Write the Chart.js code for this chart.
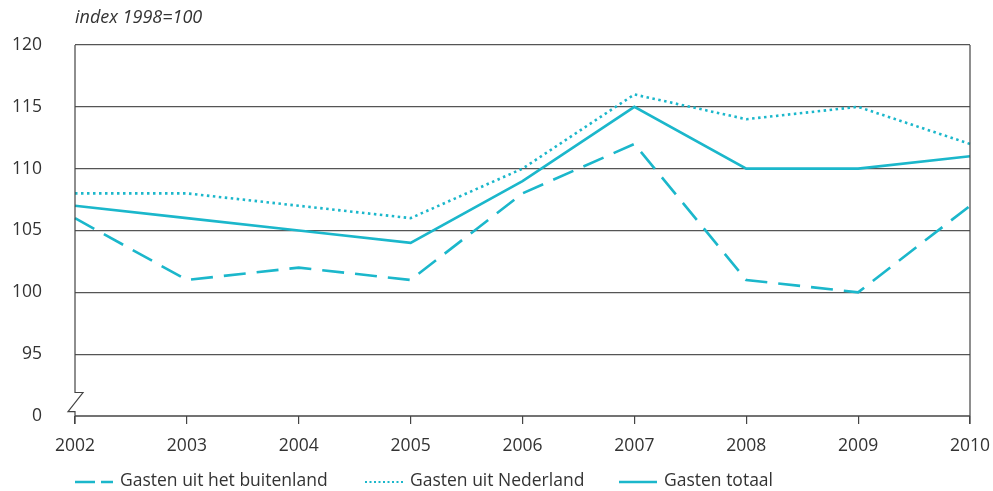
<!DOCTYPE html>
<html>
<head>
<meta charset="utf-8">
<script src="https://cdn.jsdelivr.net/npm/chart.js@4"></script>
<style>
  html, body { margin: 0; padding: 0; background: #fff; }
  #wrap { width: 993px; height: 491px; }
</style>
</head>
<body>
<div id="wrap"><canvas id="chart" width="993" height="491"></canvas></div>
<script>
// Data
const years = ['2002', '2003', '2004', '2005', '2006', '2007', '2008', '2009', '2010'];
const buitenland = [106, 101, 102, 101, 108, 112, 101, 100, 107];
const nederland = [108, 108, 107, 106, 110, 116, 114, 115, 112];
const totaal = [107, 106, 105, 104, 109, 115, 110, 110, 111];
const yTicks = [90, 95, 100, 105, 110, 115, 120]; // 90 stands for the broken axis "0"
const seriesNames = ['Gasten uit het buitenland', 'Gasten uit Nederland', 'Gasten totaal'];

const lineColor = '#1bb7cb';
const axisColor = '#444';
const font = '"Segoe UI", "Open Sans", sans-serif';

// Frame, axis break, title and legend
const decorPlugin = {
  id: 'decor',
  afterDraw(chart) {
    const ctx = chart.ctx;
    const a = chart.chartArea;
    const y = chart.scales.y;
    ctx.save();
    ctx.strokeStyle = axisColor;
    ctx.lineWidth = 1.2;
    // left axis with break
    const yb1 = y.getPixelForValue(91.9);
    const yb2 = y.getPixelForValue(90.35);
    ctx.beginPath();
    ctx.moveTo(a.left, a.top);
    ctx.lineTo(a.left, yb1);
    ctx.lineTo(a.left + 8, yb1);
    ctx.lineTo(a.left - 7, yb2);
    ctx.lineTo(a.left, yb2);
    ctx.lineTo(a.left, a.bottom + 8);
    ctx.stroke();
    // right border
    ctx.beginPath();
    ctx.moveTo(a.right, a.top);
    ctx.lineTo(a.right, a.bottom + 8);
    ctx.stroke();
    // bottom axis
    ctx.lineWidth = 1.6;
    ctx.beginPath();
    ctx.moveTo(a.left, a.bottom);
    ctx.lineTo(a.right, a.bottom);
    ctx.stroke();

    // title
    ctx.fillStyle = '#333';
    ctx.font = 'italic 18px ' + font;
    ctx.textBaseline = 'middle';
    ctx.textAlign = 'left';
    ctx.fillText('index 1998=100', 75, 18);

    // legend
    const legendY = 481;
    const items = [
      { x: 75, dash: [20, 6], w: 2.5 },
      { x: 365, dash: [2, 2.5], w: 2.2 },
      { x: 619, dash: [], w: 2.5 }
    ];
    ctx.font = '17.5px ' + font;
    items.forEach((it, i) => {
      ctx.strokeStyle = lineColor;
      ctx.lineWidth = it.w;
      ctx.setLineDash(it.dash);
      ctx.beginPath();
      ctx.moveTo(it.x, legendY + 1);
      ctx.lineTo(it.x + 38, legendY + 1);
      ctx.stroke();
      ctx.setLineDash([]);
      ctx.fillStyle = '#333';
      ctx.fillText(seriesNames[i], it.x + 45, legendY);
    });
    ctx.restore();
  }
};

new Chart(document.getElementById('chart'), {
  type: 'line',
  data: {
    labels: years,
    datasets: [
      { label: seriesNames[0], data: buitenland, borderDash: [22, 11] },
      { label: seriesNames[1], data: nederland, borderDash: [2.5, 3.5] },
      { label: seriesNames[2], data: totaal, borderDash: [] }
    ].map(d => Object.assign(d, {
      borderColor: lineColor,
      borderWidth: 2.6,
      pointRadius: 0,
      tension: 0,
      fill: false
    }))
  },
  options: {
    responsive: false,
    animation: false,
    layout: { padding: { left: 0, right: 23, top: 45, bottom: 0 } },
    plugins: { legend: { display: false }, tooltip: { enabled: false } },
    scales: {
      x: {
        offset: false,
        afterFit(scale) {
          scale.height = 75;
          scale.paddingLeft = 0;
          scale.paddingRight = 0;
        },
        border: { display: false },
        grid: { drawOnChartArea: false, drawTicks: true, tickLength: 8, color: axisColor, lineWidth: 1.2 },
        ticks: { color: '#333', font: { family: font, size: 17.5 }, padding: 12, autoSkip: false, maxRotation: 0 }
      },
      y: {
        min: 90,
        max: 120,
        afterFit(scale) { scale.width = 75; },
        afterBuildTicks(scale) { scale.ticks = yTicks.map(v => ({ value: v })); },
        border: { display: false },
        grid: {
          drawTicks: false,
          color: ctx => ctx.tick && ctx.tick.value === 90 ? 'rgba(0,0,0,0)' : '#555',
          lineWidth: 1.2
        },
        ticks: {
          color: '#333',
          font: { family: font, size: 17.5 },
          padding: 33,
          callback: v => v === 90 ? '0' : String(v)
        }
      }
    }
  },
  plugins: [decorPlugin]
});
</script>
</body>
</html>
